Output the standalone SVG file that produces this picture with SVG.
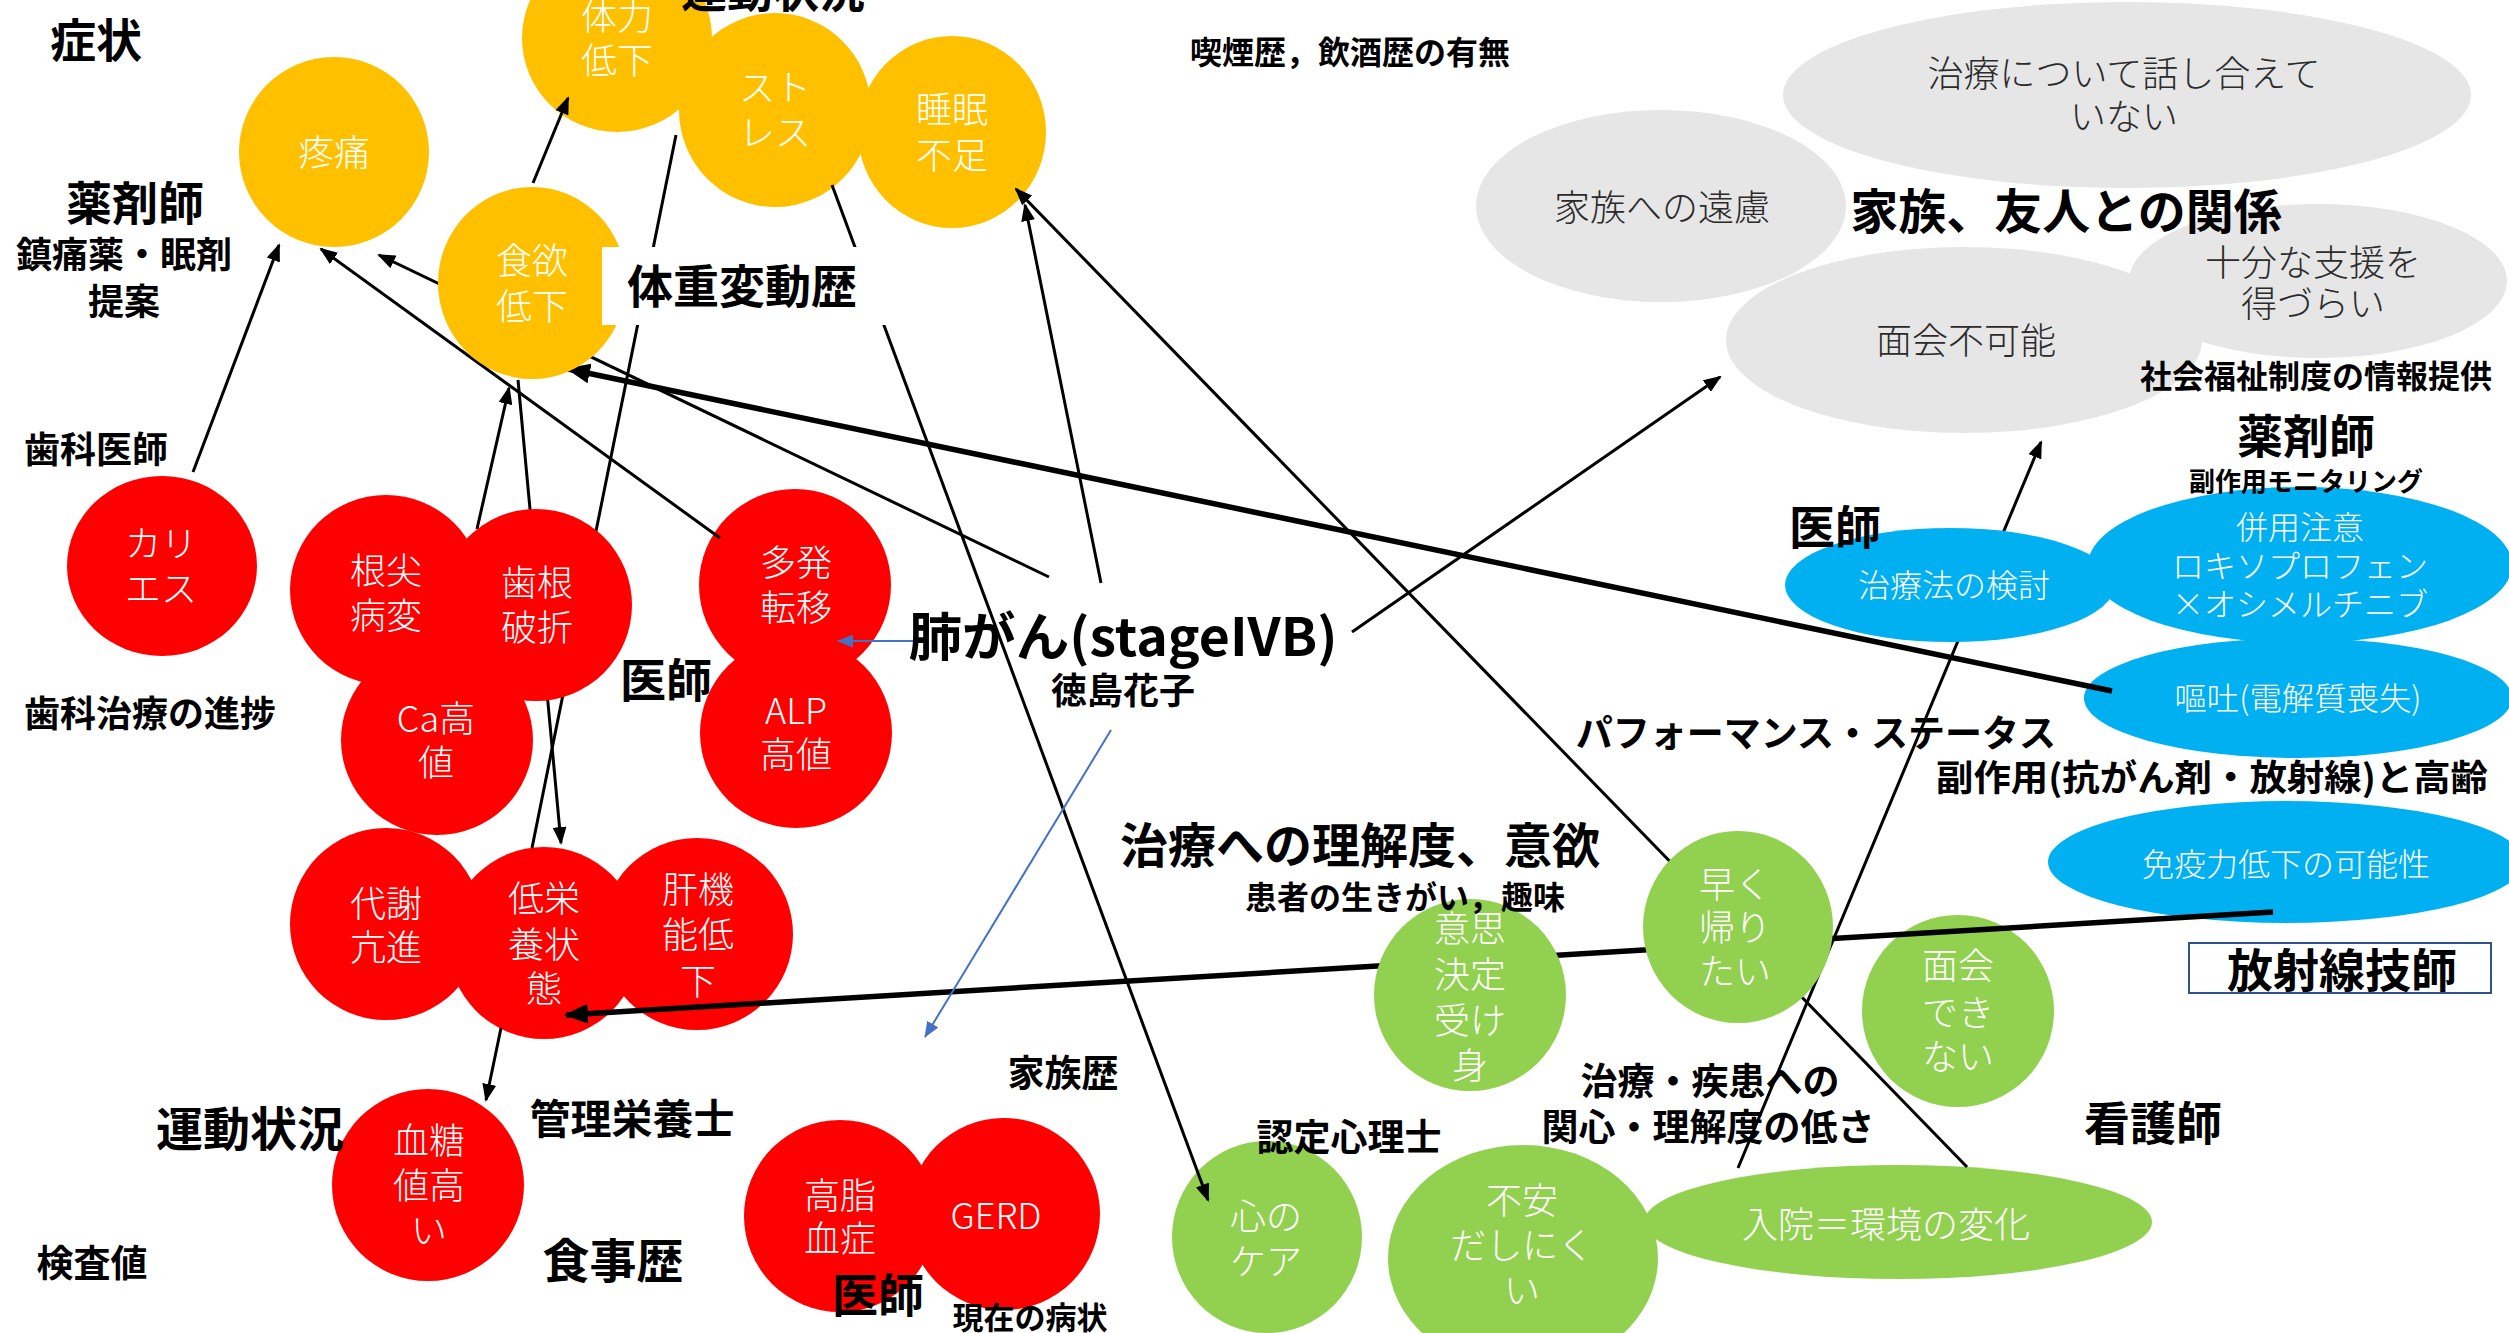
<svg xmlns="http://www.w3.org/2000/svg" width="2509" height="1333" viewBox="0 0 2509 1333">
<defs>
<style>
.y{fill:#FFC000}.r{fill:#FF0000}.g{fill:#E6E6E6}.b{fill:#00B0F0}.gr{fill:#92D050}
text{font-family:"Noto Sans CJK JP","Noto Sans CJK SC",sans-serif;dominant-baseline:central;text-anchor:middle}
tspan{dominant-baseline:central}
.w{fill:#fff;font-size:36px;font-weight:300}
.wb{fill:#fff;font-size:32px;font-weight:300}
.dk{fill:#2B2B2B;font-size:36px;font-weight:300}
.lb{fill:#000;font-weight:700}
.ln{stroke:#000;stroke-width:3;fill:none;marker-end:url(#ah)}
.tk{stroke:#000;stroke-width:5.5;fill:none;marker-end:url(#ahk)}
.bl{stroke:#4472C4;stroke-width:2;fill:none;marker-end:url(#ahb)}
</style>
<marker id="ah" viewBox="0 0 18 14" refX="16" refY="7" markerWidth="18" markerHeight="14" markerUnits="userSpaceOnUse" orient="auto"><path d="M0,0 L18,7 L0,14 z" fill="#000"/></marker>
<marker id="ahk" viewBox="0 0 24 20" refX="22" refY="10" markerWidth="24" markerHeight="20" markerUnits="userSpaceOnUse" orient="auto"><path d="M0,0 L24,10 L0,20 z" fill="#000"/></marker>
<marker id="ahb" viewBox="0 0 16 13" refX="15" refY="6.5" markerWidth="16" markerHeight="13" markerUnits="userSpaceOnUse" orient="auto"><path d="M0,0 L16,6.5 L0,13 z" fill="#4472C4"/></marker>
</defs>
<rect width="2509" height="1333" fill="#fff"/>

<g id="nodes-back">
 <g id="n-tairyoku"><ellipse class="y" cx="617" cy="38" rx="95" ry="94"/><text class="w"><tspan x="617" y="14">体力</tspan><tspan x="617" y="58">低下</tspan></text></g>
 <g id="n-stress"><ellipse class="y" cx="775" cy="110" rx="96" ry="97"/><text class="w"><tspan x="775" y="85">スト</tspan><tspan x="775" y="130">レス</tspan></text></g>
 <g id="n-suimin"><ellipse class="y" cx="952" cy="132" rx="94" ry="96"/><text class="w"><tspan x="952" y="107">睡眠</tspan><tspan x="952" y="153">不足</tspan></text></g>
 <g id="n-toutsuu"><ellipse class="y" cx="334" cy="152" rx="95" ry="95"/><text class="w" x="334" y="150">疼痛</text></g>

 <g id="n-caries"><ellipse class="r" cx="162" cy="566" rx="95" ry="90"/><text class="w"><tspan x="161" y="541">カリ</tspan><tspan x="161" y="586">エス</tspan></text></g>
 <g id="n-konsen"><ellipse class="r" cx="386" cy="590" rx="96" ry="95"/><text class="w"><tspan x="386" y="568">根尖</tspan><tspan x="386" y="613">病変</tspan></text></g>
 <g id="n-ca"><ellipse class="r" cx="437" cy="740" rx="96" ry="95"/><text class="w"><tspan x="436" y="716">Ca高</tspan><tspan x="436" y="760">値</tspan></text></g>
 <g id="n-tahatsu"><ellipse class="r" cx="795" cy="585" rx="96" ry="96"/><text class="w"><tspan x="796" y="560">多発</tspan><tspan x="796" y="605">転移</tspan></text></g>
 <g id="n-alp"><ellipse class="r" cx="796" cy="733" rx="96" ry="95"/><text class="w"><tspan x="796" y="708">ALP</tspan><tspan x="796" y="752">高値</tspan></text></g>
 <g id="n-taisha"><ellipse class="r" cx="386" cy="924" rx="96" ry="96"/><text class="w"><tspan x="386" y="901">代謝</tspan><tspan x="386" y="945">亢進</tspan></text></g>
 <g id="n-kankinou"><ellipse class="r" cx="697" cy="934" rx="96" ry="96"/><text class="w"><tspan x="698" y="887">肝機</tspan><tspan x="698" y="932">能低</tspan><tspan x="698" y="979">下</tspan></text></g>
 <g id="n-teieiyou"><ellipse class="r" cx="544" cy="943" rx="96" ry="96"/><text class="w"><tspan x="544" y="896">低栄</tspan><tspan x="544" y="942">養状</tspan><tspan x="544" y="986">態</tspan></text></g>
 <g id="n-kettou"><ellipse class="r" cx="428" cy="1185" rx="96" ry="96"/><text class="w"><tspan x="429" y="1138">血糖</tspan><tspan x="429" y="1183">値高</tspan><tspan x="429" y="1228">い</tspan></text></g>
 <g id="n-koushi"><ellipse class="r" cx="840" cy="1216" rx="96" ry="96"/><text class="w"><tspan x="840" y="1193">高脂</tspan><tspan x="840" y="1236">血症</tspan></text></g>
 <g id="n-gerd"><ellipse class="r" cx="1004" cy="1214" rx="96" ry="96"/><text class="w" x="996" y="1213">GERD</text></g>

 <g id="n-hanashiai"><ellipse class="g" cx="2127" cy="95" rx="344" ry="93"/><text class="dk"><tspan x="2124" y="71">治療について話し合えて</tspan><tspan x="2124" y="114">いない</tspan></text></g>
 <g id="n-enryo"><ellipse class="g" cx="1661" cy="206" rx="185" ry="96"/><text class="dk" x="1662" y="205">家族への遠慮</text></g>
 <g id="n-menkai-fuka"><ellipse class="g" cx="1964" cy="340" rx="238" ry="93"/><text class="dk" x="1966" y="338">面会不可能</text></g>
 <g id="n-shien"><ellipse class="g" cx="2318" cy="281" rx="189" ry="77"/><text class="dk"><tspan x="2313" y="260">十分な支援を</tspan><tspan x="2313" y="301">得づらい</tspan></text></g>

 <g id="n-heiyou"><ellipse class="b" cx="2300" cy="565" rx="212" ry="78"/><text class="wb"><tspan x="2300" y="525">併用注意</tspan><tspan x="2300" y="564">ロキソプロフェン</tspan><tspan x="2300" y="602">×オシメルチニブ</tspan></text></g>
 <g id="n-outo"><ellipse class="b" cx="2298" cy="698" rx="214" ry="60"/><text class="wb" x="2298" y="696" textLength="247" lengthAdjust="spacingAndGlyphs">嘔吐(電解質喪失)</text></g>
 <g id="n-meneki"><ellipse class="b" cx="2286" cy="862" rx="238" ry="61"/><text class="wb" x="2286" y="862">免疫力低下の可能性</text></g>

 <g id="n-menkai-dekinai"><ellipse class="gr" cx="1958" cy="1011" rx="96" ry="96"/><text class="w"><tspan x="1958" y="963">面会</tspan><tspan x="1958" y="1010">でき</tspan><tspan x="1958" y="1054">ない</tspan></text></g>
 <g id="n-kokoro"><ellipse class="gr" cx="1267" cy="1237" rx="95" ry="96"/><text class="w"><tspan x="1266" y="1214">心の</tspan><tspan x="1266" y="1259">ケア</tspan></text></g>
 <g id="n-fuan"><ellipse class="gr" cx="1523" cy="1258" rx="135" ry="113"/><text class="w"><tspan x="1522" y="1198">不安</tspan><tspan x="1522" y="1243">だしにく</tspan><tspan x="1522" y="1288">い</tspan></text></g>
 <g id="n-nyuin"><ellipse class="gr" cx="1898" cy="1222" rx="254" ry="57"/><text class="w" x="1886" y="1222">入院＝環境の変化</text></g>
</g>

<g id="connectors">
 <line class="ln" x1="193" y1="472" x2="279" y2="245"/>
 <line class="ln" x1="720" y1="538" x2="321" y2="249"/>
 <line class="ln" x1="1049" y1="577" x2="379" y2="255"/>
 <line class="ln" x1="533" y1="183" x2="568" y2="98"/>
 <line class="ln" x1="676" y1="135" x2="532" y2="848" style="marker-end:none"/>
 <line class="ln" x1="518" y1="380" x2="561" y2="843"/>
 <line class="ln" x1="477" y1="529" x2="509" y2="388"/>
 <line class="tk" x1="2112" y1="691" x2="568" y2="369"/>
 <line class="ln" x1="1101" y1="583" x2="1025" y2="205"/>
 <line class="ln" x1="832" y1="185" x2="1208" y2="1200"/>
 <line class="ln" x1="1967" y1="1167" x2="1016" y2="189"/>
 <line class="ln" x1="1352" y1="632" x2="1720" y2="377"/>
 <line class="ln" x1="1738" y1="1168" x2="2041" y2="442"/>
 <line class="tk" x1="2273" y1="912" x2="566" y2="1015"/>
 <line class="ln" x1="501" y1="1028" x2="486" y2="1100"/>
 <line class="bl" x1="913" y1="641" x2="838" y2="641"/>
 <line class="bl" x1="1111" y1="730" x2="925" y2="1037"/>
</g>

<g id="nodes-front">
 <g id="n-shokuyoku"><ellipse class="y" cx="532" cy="283" rx="94" ry="96"/><text class="w"><tspan x="532" y="258">食欲</tspan><tspan x="532" y="304">低下</tspan></text></g>
 <g id="n-shikon"><ellipse class="r" cx="536" cy="605" rx="96" ry="96"/><text class="w"><tspan x="537" y="580">歯根</tspan><tspan x="537" y="625">破折</tspan></text></g>
 <g id="n-chiryouhou"><ellipse class="b" cx="1950" cy="585" rx="165" ry="57"/><text class="wb" x="1954" y="583">治療法の検討</text></g>
 <g id="n-ishikettei"><ellipse class="gr" cx="1470" cy="995" rx="96" ry="96"/><text class="w"><tspan x="1470" y="926">意思</tspan><tspan x="1470" y="972">決定</tspan><tspan x="1470" y="1018">受け</tspan><tspan x="1470" y="1063">身</tspan></text></g>
 <g id="n-hayaku"><ellipse class="gr" cx="1738" cy="927" rx="95" ry="96"/><text class="w"><tspan x="1735" y="882">早く</tspan><tspan x="1735" y="925">帰り</tspan><tspan x="1735" y="969">たい</tspan></text></g>
</g>

<g id="labels">
 <text class="lb" x="96" y="37" font-size="46">症状</text>
 <text class="lb" x="773" y="-13" font-size="46">運動状況</text>
 <text class="lb" x="135" y="200" font-size="46">薬剤師</text>
 <text class="lb" x="124" y="252" font-size="36">鎮痛薬・眠剤</text>
 <text class="lb" x="124" y="299" font-size="36">提案</text>
 <text class="lb" x="96" y="447" font-size="36">歯科医師</text>
 <text class="lb" x="150" y="711" font-size="36">歯科治療の進捗</text>
 <text class="lb" x="666" y="677" font-size="46">医師</text>
 <text class="lb" x="1123" y="633" font-size="52" textLength="429" lengthAdjust="spacingAndGlyphs">肺がん(stageIVB)</text>
 <text class="lb" x="1123" y="688" font-size="36">徳島花子</text>
 <g id="lbl-taijuu"><rect x="602" y="247" width="290" height="78" fill="#fff"/><text class="lb" x="742" y="283" font-size="46">体重変動歴</text></g>
 <text class="lb" x="1350" y="50" font-size="32">喫煙歴，飲酒歴の有無</text>
 <text class="lb" x="2066" y="208" font-size="48">家族、友人との関係</text>
 <text class="lb" x="2316" y="374" font-size="32">社会福祉制度の情報提供</text>
 <text class="lb" x="2306" y="433" font-size="46">薬剤師</text>
 <text class="lb" x="2306" y="479" font-size="26">副作用モニタリング</text>
 <text class="lb" x="1835" y="524" font-size="46">医師</text>
 <text class="lb" x="1816" y="731" font-size="37">パフォーマンス・ステータス</text>
 <text class="lb" x="2212" y="775" font-size="36" textLength="552" lengthAdjust="spacingAndGlyphs">副作用(抗がん剤・放射線)と高齢</text>
 <text class="lb" x="1360" y="842" font-size="48">治療への理解度、意欲</text>
 <text class="lb" x="1405" y="895" font-size="32">患者の生きがい，趣味</text>
 <g id="lbl-houshasen"><rect x="2189" y="943" width="302" height="50" fill="#fff" stroke="#2F528F" stroke-width="2"/><text class="lb" x="2342" y="967" font-size="46">放射線技師</text></g>
 <text class="lb" x="1710" y="1079" font-size="37">治療・疾患への</text>
 <text class="lb" x="1708" y="1125" font-size="37">関心・理解度の低さ</text>
 <text class="lb" x="1349" y="1135" font-size="37">認定心理士</text>
 <text class="lb" x="2153" y="1120" font-size="46">看護師</text>
 <text class="lb" x="1063" y="1071" font-size="37">家族歴</text>
 <text class="lb" x="250" y="1125" font-size="47">運動状況</text>
 <text class="lb" x="632" y="1116" font-size="41">管理栄養士</text>
 <text class="lb" x="92" y="1261" font-size="37">検査値</text>
 <text class="lb" x="613" y="1257" font-size="47">食事歴</text>
 <text class="lb" x="878" y="1292" font-size="46">医師</text>
 <text class="lb" x="1030" y="1315" font-size="31">現在の病状</text>
</g>
</svg>
